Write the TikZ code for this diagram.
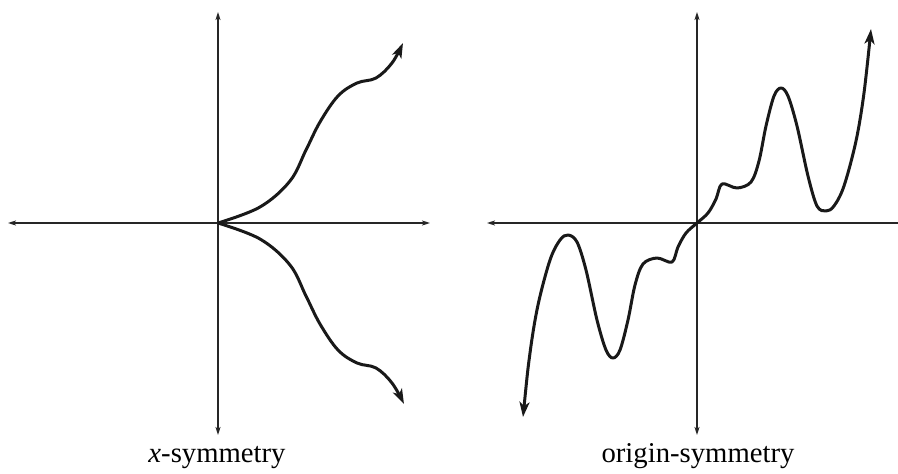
\documentclass[tikz,border=0pt]{standalone}
\usepackage{fontspec}
\setmainfont{Liberation Serif}
\usetikzlibrary{arrows.meta}
\tikzset{
  axtipa/.tip={Stealth[length=8pt,width=5pt,inset=2pt]},
  cvtipa/.tip={Stealth[length=15pt,width=10pt,inset=4pt]},
  axis/.style={line width=1.4pt, color=black!85},
  curve/.style={line width=3pt, color=black!90, line join=round},
  lbl/.style={anchor=base, font=\fontsize{28.7}{32}\selectfont, inner sep=0pt}
}
\begin{document}
\begin{tikzpicture}[x=1pt,y=-1pt]
\useasboundingbox (0,0) rectangle (898,474);
% left panel
\coordinate (L) at (218,223);
\coordinate (Lw) at (8,223);
\coordinate (Le) at (430,223);
\coordinate (Ln) at (218,12);
\coordinate (Ls) at (218,435);
\draw[axis,axtipa-axtipa] (Lw) -- (Le);
\draw[axis,axtipa-axtipa] (Ls) -- (Ln);
\draw[curve,-cvtipa] plot[smooth,tension=0.6] coordinates {(218,223) (260,207) (290,181) (306,150) (320,122) (338,96) (357,83) (376,78) (392,63) (403,43)};
\draw[curve,-cvtipa] plot[smooth,tension=0.6] coordinates {(218,223) (260,239) (290,265) (306,296) (320,324) (338,350) (357,363) (376,368) (392,383) (404,404)};
\node[lbl] (lx) at (217,462) {\textit{x}-symmetry};
% right panel
\coordinate (R) at (697,223);
\coordinate (Rw) at (487,223);
\coordinate (Re) at (898,223);
\coordinate (Rn) at (697,12);
\coordinate (Rs) at (697,435);
\draw[axis,axtipa-] (Rw) -- (Re);
\draw[axis,axtipa-axtipa] (Rs) -- (Rn);
\draw[curve,cvtipa-cvtipa] plot[smooth,tension=0.55] coordinates {
 (523,417) (530,353) (538,305) (550,260) (560,240) (568,235) (577,242) (586,270) (597,320) (606,350) (613,358) (620,350) (628,320) (635,285) (643,264) (657,258) (672,262) (678,247) (686,233) (697,223)
 (708,213) (716,199) (722,184) (737,188) (751,182) (759,161) (766,126) (774,96) (781,88) (788,96) (797,126) (808,176) (817,206) (826,211) (834,206) (844,186) (856,141) (864,93) (871,29)};
\node[lbl] (rx) at (698,462) {origin-symmetry};
\end{tikzpicture}
\end{document}
